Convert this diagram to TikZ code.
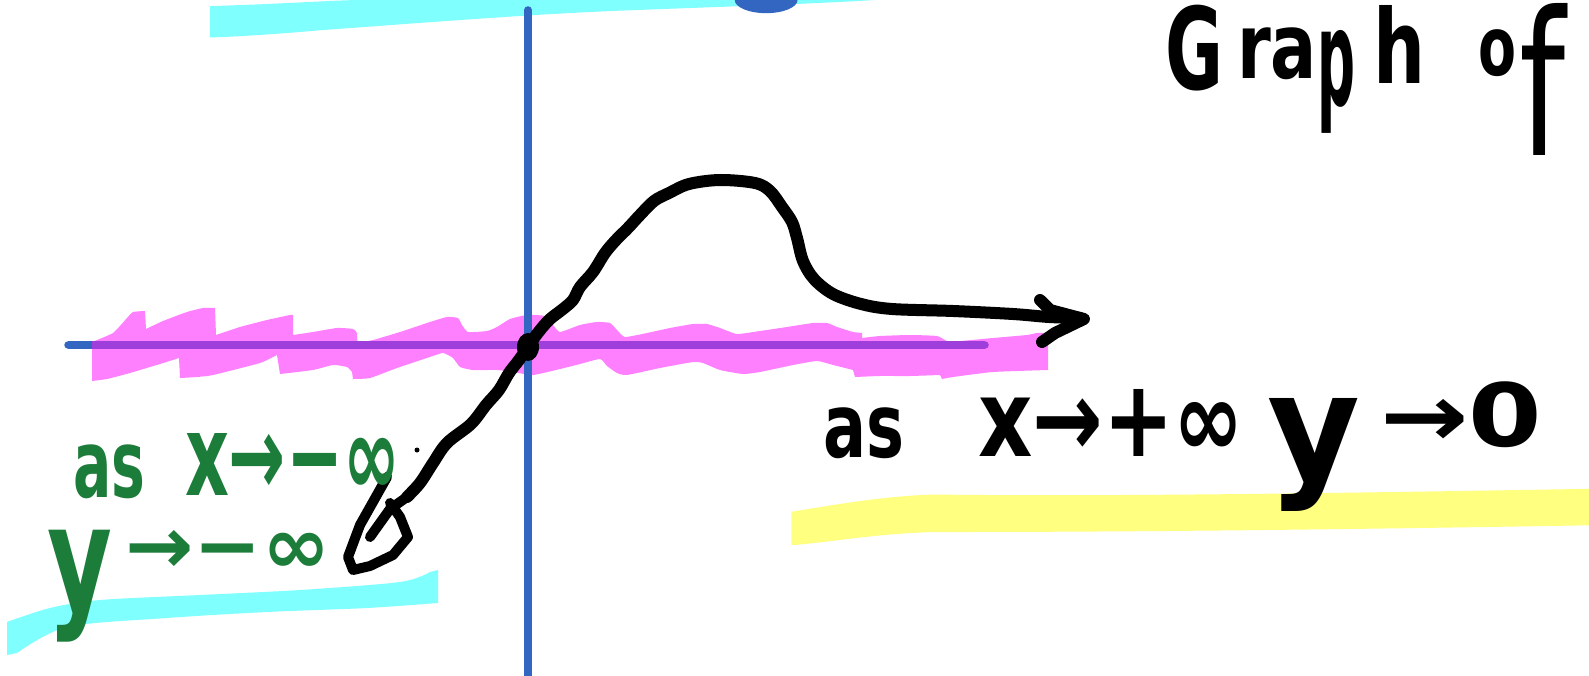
\documentclass[tikz,border=0pt]{standalone}
\usepackage{fontspec}
\setmainfont{DejaVu Sans}
\usepackage{graphicx}
\newcommand\hwtxt[3]{\resizebox*{#1pt}{#2pt}{\bfseries #3}}
\newcommand\hwthin[3]{\resizebox*{#1pt}{#2pt}{#3}}
\definecolor{hlcyan}{HTML}{80FFFF}
\definecolor{hlpink}{HTML}{FF80FF}
\definecolor{hlyellow}{HTML}{FFFF80}
\definecolor{axblue}{HTML}{3366C0}
\definecolor{axpurple}{HTML}{9E3FDB}
\definecolor{inkgreen}{HTML}{1C7C3A}
\tikzset{
  word/.style={anchor=north west, inner sep=0pt, outer sep=0pt},
  blackword/.style={word, text=black},
  greenword/.style={word, text=inkgreen},
  ink/.style={draw=black, line width=12pt, line cap=round, line join=round},
  axisline/.style={line width=7.5pt, line cap=round},
}
\begin{document}
\begin{tikzpicture}[x=1pt,y=-1pt]
\useasboundingbox[fill=white] (0,0) rectangle (1589,676);
% highlights
\begin{scope}[scale=1.0134]
\fill[hlcyan] (207,6) .. controls (280,4) and (330,0) .. (358,0) -- (863,0)
  .. controls (800,4) and (700,7) .. (626,10) .. controls (540,13) and (450,20) .. (314,30)
  .. controls (280,33) and (240,36) .. (207,37) -- cycle;
\fill[hlyellow] (781,505) .. controls (830,497) and (870,490) .. (920,488)
  .. controls (1100,490) and (1300,487) .. (1589,482) -- (1589,518)
  .. controls (1300,523) and (1100,525) .. (920,525) .. controls (860,527) and (820,535) .. (781,538) -- cycle;
\fill[axblue] (756,0) ellipse [x radius=31, y radius=13];
\end{scope}
\fill[hlcyan] plot[smooth, tension=0.5] coordinates {(7,622) (50,608) (100,600) (200,595) (300,590) (400,582) (430,572)}
  -- (438,570) -- (438,603) -- plot[smooth, tension=0.5] coordinates {(438,603) (367,608) (267,612) (167,618) (67,627) (17,653)} -- (7,655) -- cycle;
% pink highlight
\fill[hlpink] plot[smooth, tension=0.3] coordinates {
 (92,342) (113,333) (127,318) (133,312) (145,311)} -- (146,329) -- plot[smooth, tension=0.3] coordinates {(146,329) (163,321) (187,312) (203,308) (215,308)}
 -- (216,335) -- plot[smooth, tension=0.3] coordinates {(216,335) (240,327) (267,320) (290,315) (293,315)}
 -- (293,335) -- plot[smooth, tension=0.3] coordinates {(293,335) (313,332) (337,328) (353,329) (357,333) (358,342)
 (373,340) (400,332) (430,322) (447,317) (458,318) (462,325) (468,332) (487,331) (497,327) (510,319)
 (527,315) (545,316) (553,325) (560,332) (580,325) (597,322) (610,323) (617,330) (625,337)
 (647,333) (670,328) (693,324) (707,324) (720,328) (737,334) (760,331) (787,327) (813,323)
 (827,323) (837,327) (853,332) (862,333)} -- (862,338) -- plot[smooth, tension=0.3] coordinates {(862,338)
 (880,336) (910,335) (937,336) (947,341) (960,341) (993,338) (1027,335) (1037,333) (1048,333)}
 -- (1048,370) -- plot[smooth, tension=0.3] coordinates {(1048,370) (993,372) (953,377) (942,379)} -- (940,375)
 -- plot[smooth, tension=0.3] coordinates {(940,375) (910,376) (880,376) (855,377)} -- (853,370)
 -- plot[smooth, tension=0.3] coordinates {(853,370) (833,365) (817,361) (793,365) (760,372) (743,374)
 (720,370) (703,363) (693,362) (660,368) (627,375) (617,373) (607,366) (600,359) (580,364)
 (560,369) (533,375) (513,372) (497,370) (473,370) (460,367) (453,358) (443,353) (430,357)
 (397,368) (370,378) (353,379)} -- (352,372) -- plot[smooth, tension=0.3] coordinates {(352,372) (347,367) (333,365) (313,370) (280,374)}
 -- (277,355) -- plot[smooth, tension=0.3] coordinates {(277,355) (260,363) (213,375) (197,377) (180,378)}
 -- (179,358) -- plot[smooth, tension=0.3] coordinates {(179,358) (160,364) (130,373) (107,379) (92,381)} -- cycle;
% axes
\draw[axisline, axblue] (528,10) -- (528,676);
\draw[axisline, axblue, line cap=butt] (68,345) -- (92,345);
\fill[axblue] (68,345) circle (3.75);
\draw[axisline, axpurple, line cap=butt] (92,345) -- (985,345);
\fill[axpurple] (985,345) circle (3.75);
% curve
\draw[ink] plot[smooth, tension=0.55] coordinates {
 (407,497) (420,483) (433,463) (447,443) (471,424) (486,405) (499,390) (509,373) (519,360)
 (528,347) (537,334) (549,320) (563,309) (573,300) (580,287) (593,272) (605,253) (616,240)
 (628,228) (640,215) (654,201) (669,193) (689,184) (720,180) (755,183) (770,191) (782,207)
 (792,222) (797,238) (803,261) (814,279) (833,294) (861,304) (892,309) (953,311)
 (1013,314) (1049,317) (1080,318)};
\draw[ink] (1040,300) -- (1050,310) -- (1084,319) -- (1055,333) -- (1042,342);
\fill[black] (528,347) ellipse [x radius=11, y radius=14];
% pencil
\draw[ink, line width=10pt] (387,477) -- (360,525) -- (348,557) -- (353,570) -- (370,566)
  -- (393,555) -- (408,537) -- (400,517) -- (390,503);
\draw[ink, line width=10pt] (370,537) -- (390,509) -- (407,497);
\fill[black] (417,450) circle (2.5);
% black text
\node[blackword] (as1) at (823,408) {\hwtxt{81}{51}{as}};
\node[blackword] (xpinf) at (978,389) {\hwtxt{266}{67}{x→+∞}};
\node[blackword] (ylet) at (1267,398) {\hwtxt{93}{113}{y}};
\node[blackword] (tozero) at (1380,382) {\hwtxt{162}{66}{→0}};
\node[blackword] (gG) at (1165,5) {\hwtxt{58}{86}{G}};
\node[blackword] (gra) at (1237,28) {\hwtxt{80}{52}{ra}};
\node[blackword] (gp) at (1317,30) {\hwtxt{38}{103}{p}};
\node[blackword] (gh) at (1373,5) {\hwtxt{52}{78}{h}};
\node[blackword] (oo) at (1478,30) {\hwtxt{38}{47}{o}};
\node[blackword] (of) at (1519,3) {\hwthin{46}{152}{f}};
% green text
\node[greenword] (as2) at (73,445) {\hwtxt{72}{54}{as}};
\node[greenword] (xminf) at (185,433) {\hwtxt{215}{62}{x→−∞}};
\node[greenword] (ylet2) at (47,530) {\hwtxt{65}{112}{y}};
\node[greenword] (yminf) at (125,530) {\hwtxt{205}{43}{→−∞}};
\end{tikzpicture}
\end{document}
